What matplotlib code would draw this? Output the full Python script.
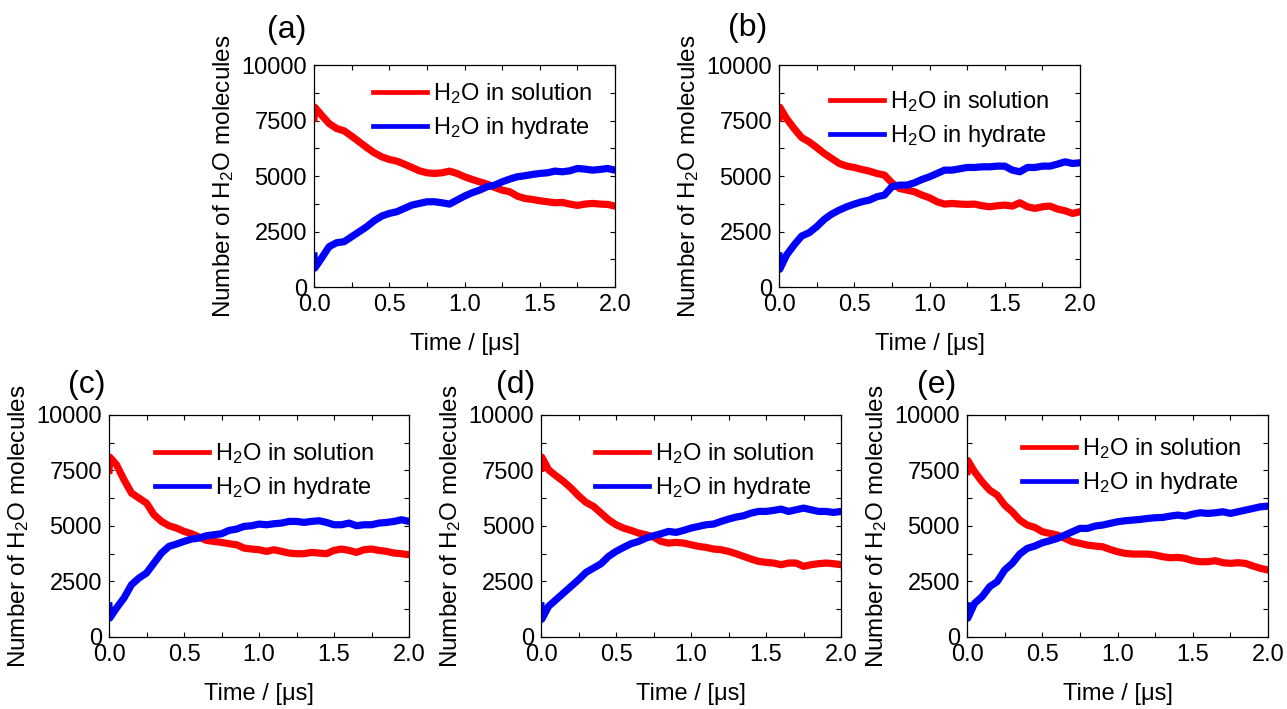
import numpy as np
import matplotlib.pyplot as plt
from matplotlib.ticker import MultipleLocator

plt.rcParams['font.family'] = ['Liberation Sans', 'DejaVu Sans']
plt.rcParams['mathtext.fontset'] = 'custom'
plt.rcParams['mathtext.rm'] = 'Liberation Sans'
plt.rcParams['mathtext.it'] = 'Liberation Sans:italic'
plt.rcParams['mathtext.default'] = 'regular'

# time grid in microseconds (first step is the jump right after t = 0)
time_us = np.concatenate(([0.0, 0.005], np.arange(1, 41) * 0.05))

panel_names = ['(a)', '(b)', '(c)', '(d)', '(e)']

# H2O in solution
a_sol = [7600, 8100, 7740, 7365, 7140, 7035, 6795, 6540, 6285, 6045, 5865, 5745, 5670, 5535,
         5385, 5235, 5145, 5115, 5145, 5220, 5115, 4965, 4845, 4740, 4635, 4485, 4365, 4290,
         4095, 3990, 3945, 3885, 3840, 3795, 3810, 3735, 3675, 3735, 3765, 3735, 3720, 3645]
b_sol = [7600, 8100, 7590, 7140, 6735, 6540, 6285, 6015, 5790, 5565, 5445, 5385, 5295, 5220,
         5115, 5040, 4695, 4440, 4365, 4290, 4140, 4020, 3840, 3735, 3765, 3735, 3720, 3735,
         3660, 3615, 3660, 3690, 3645, 3795, 3615, 3540, 3615, 3645, 3510, 3435, 3315, 3390]
c_sol = [7500, 8100, 7755, 7080, 6480, 6255, 6030, 5505, 5205, 5010, 4905, 4755, 4650, 4500,
         4350, 4305, 4260, 4200, 4155, 4005, 3960, 3930, 3855, 3930, 3855, 3780, 3750, 3750,
         3810, 3780, 3750, 3900, 3960, 3900, 3810, 3930, 3960, 3900, 3855, 3780, 3750, 3705]
d_sol = [7600, 8100, 7530, 7260, 7005, 6705, 6360, 6060, 5880, 5580, 5280, 5055, 4905, 4800,
         4680, 4605, 4500, 4305, 4230, 4260, 4230, 4155, 4080, 4035, 3960, 3930, 3855, 3750,
         3630, 3510, 3405, 3360, 3330, 3255, 3330, 3330, 3180, 3255, 3300, 3330, 3300, 3255]
e_sol = [7450, 7950, 7440, 6990, 6615, 6390, 5940, 5640, 5265, 5040, 4935, 4740, 4665, 4590,
         4440, 4290, 4215, 4140, 4095, 4065, 3945, 3840, 3765, 3735, 3735, 3735, 3690, 3615,
         3570, 3585, 3540, 3435, 3390, 3390, 3435, 3345, 3315, 3345, 3315, 3195, 3090, 3015]

# H2O in hydrate
a_hyd = [1400, 850, 1300, 1815, 1995, 2040, 2265, 2490, 2715, 2985, 3195, 3315, 3390, 3540,
         3690, 3765, 3840, 3840, 3795, 3735, 3915, 4095, 4245, 4365, 4515, 4590, 4740, 4860,
         4965, 5010, 5070, 5115, 5145, 5220, 5190, 5235, 5340, 5310, 5265, 5295, 5340, 5265]
b_hyd = [1400, 800, 1440, 1890, 2295, 2445, 2715, 3045, 3285, 3465, 3615, 3735, 3840, 3915,
         4065, 4140, 4515, 4590, 4590, 4695, 4845, 4965, 5115, 5265, 5265, 5325, 5385, 5385,
         5415, 5415, 5445, 5445, 5265, 5190, 5385, 5385, 5445, 5445, 5535, 5640, 5565, 5595]
c_hyd = [1400, 850, 1305, 1755, 2355, 2655, 2880, 3330, 3780, 4080, 4185, 4305, 4410, 4455,
         4560, 4605, 4650, 4800, 4860, 4980, 5010, 5085, 5055, 5100, 5130, 5205, 5205, 5160,
         5205, 5235, 5160, 5055, 5055, 5130, 5010, 5055, 5055, 5130, 5160, 5205, 5280, 5205]
d_hyd = [1400, 800, 1380, 1680, 1980, 2280, 2580, 2910, 3105, 3300, 3630, 3855, 4035, 4200,
         4305, 4455, 4560, 4650, 4755, 4710, 4800, 4905, 4980, 5055, 5085, 5205, 5310, 5400,
         5460, 5580, 5655, 5655, 5700, 5760, 5655, 5730, 5805, 5730, 5655, 5655, 5610, 5655]
e_hyd = [1400, 850, 1515, 1815, 2265, 2490, 3015, 3315, 3735, 3990, 4095, 4245, 4335, 4440,
         4590, 4740, 4890, 4890, 4995, 5040, 5115, 5190, 5235, 5265, 5295, 5340, 5370, 5385,
         5445, 5490, 5445, 5535, 5595, 5565, 5595, 5640, 5565, 5640, 5715, 5790, 5865, 5895]

solution = [a_sol, b_sol, c_sol, d_sol, e_sol]
hydrate = [a_hyd, b_hyd, c_hyd, d_hyd, e_hyd]

# axes boxes in figure fraction: left, bottom, width, height
boxes = [(0.2440, 0.5952, 0.2339, 0.3131),
         (0.6053, 0.5952, 0.2339, 0.3131),
         (0.0847, 0.1016, 0.2331, 0.3131),
         (0.4204, 0.1016, 0.2331, 0.3131),
         (0.7514, 0.1016, 0.2339, 0.3131)]
# panel letter centres (pixels) and legend anchors (axes fraction)
letter_xy = [(287, 30), (748, 28), (87, 385), (516, 385), (937, 385)]
legend_xy = [(0.196, 0.928), (0.169, 0.892), (0.153, 0.883), (0.18, 0.883), (0.183, 0.906)]

W, H = 1287, 709
fig = plt.figure(figsize=(W / 100, H / 100), dpi=100)

for i in range(5):
    ax = fig.add_axes(boxes[i])
    ax.plot(time_us, solution[i], color='#ff0000', lw=5.2, solid_joinstyle='round',
            label='H$_2$O in solution')
    ax.plot(time_us, hydrate[i], color='#0000ff', lw=5.2, solid_joinstyle='round',
            label='H$_2$O in hydrate')
    ax.set_xlim(0, 2.0)
    ax.set_ylim(0, 10000)
    ax.xaxis.set_major_locator(MultipleLocator(0.5))
    ax.xaxis.set_minor_locator(MultipleLocator(0.25))
    ax.yaxis.set_major_locator(MultipleLocator(2500))
    ax.yaxis.set_minor_locator(MultipleLocator(1250))
    ax.xaxis.set_major_formatter(plt.FormatStrFormatter('%.1f'))
    ax.tick_params(which='both', direction='in', top=True, right=True,
                   length=3.5, width=0.8, labelsize=17, pad=5)
    for sp in ax.spines.values():
        sp.set_linewidth(0.9)
    ax.set_xlabel('Time / [μs]', fontsize=17, labelpad=12)
    ax.set_ylabel('Number of H$_2$O molecules', fontsize=17.5, labelpad=4)
    leg = ax.legend(loc='upper left', bbox_to_anchor=legend_xy[i], frameon=False,
                    fontsize=17, handlelength=2.3, handletextpad=0.25, labelspacing=0.4,
                    borderpad=0, borderaxespad=0)
    for h in leg.legend_handles:
        h.set_linewidth(3.4)
    fig.text(letter_xy[i][0] / W, 1 - letter_xy[i][1] / H, panel_names[i],
             fontsize=23, ha='center', va='center')

fig.savefig('out.png', dpi=100)
